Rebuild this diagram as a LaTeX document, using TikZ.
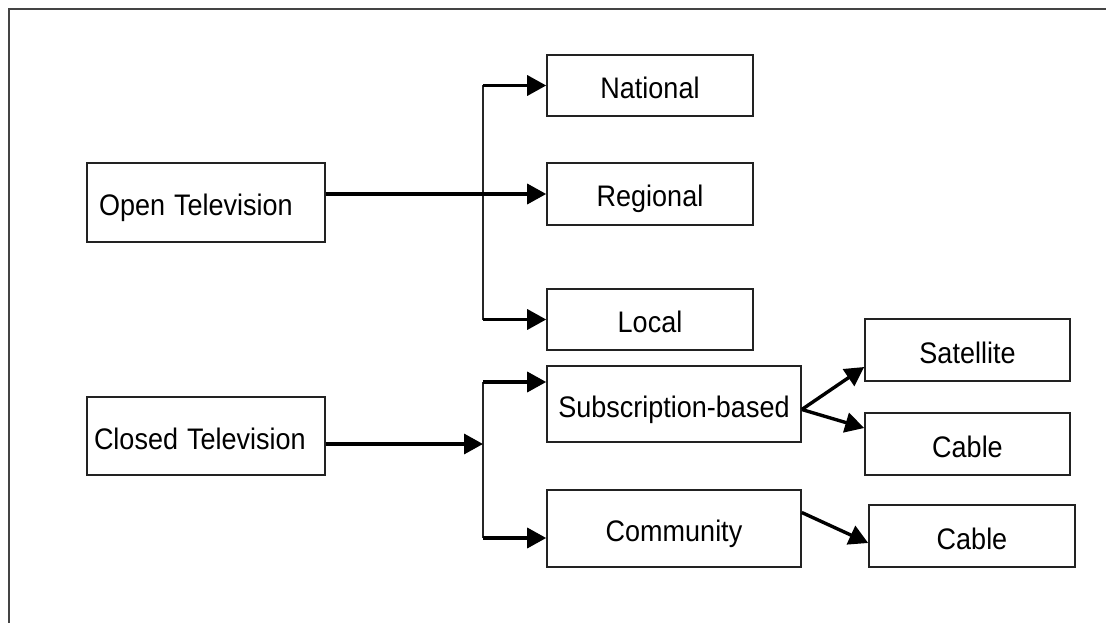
\documentclass[tikz,border=0pt]{standalone}
\usepackage{fontspec}
\setmainfont{Liberation Sans}
\usetikzlibrary{arrows.meta,positioning}
\definecolor{frame}{HTML}{444444}
\definecolor{boxline}{HTML}{222222}
\newcommand{\tall}[1]{\scalebox{1}[1.1]{#1}}
\tikzset{
  box/.style={draw=boxline, line width=1.6pt, inner sep=0pt, text height=26pt, text depth=0pt,
    font=\fontsize{27}{32}\selectfont, text=black},
  leftbox/.style={box, align=left, inner xsep=12pt, text width=214pt},
  conn/.style={line width=3.4pt, black, -{Triangle[length=19pt,width=20pt]}},
  trunk/.style={line width=2pt, black!85},
}
\begin{document}
\begin{tikzpicture}[x=1pt,y=-1pt]
\useasboundingbox (0,0) rectangle (1106,623);
\fill[white] (0,0) rectangle (1106,623);
\draw[frame, line width=2pt] (1110,9) -- (9,9) -- (9,630);

% boxes
\node[leftbox, minimum height=79pt] (open) at (206,202.5) {\tall{Open Television}};
\node[box, minimum height=78pt, align=left, inner xsep=7pt, text width=224pt] (closed) at (206,436) {\tall{Closed Television}};
\node[box, minimum width=206pt, minimum height=61pt] (national) at (650,85.5) {\tall{National}};
\node[box, minimum width=206pt, minimum height=62pt] (regional) at (650,194) {\tall{Regional}};
\node[box, minimum width=206pt, minimum height=61pt] (local) at (650,319.5) {\tall{Local}};
\node[box, minimum width=254pt, minimum height=76pt] (sub) at (674,404) {\tall{Subscription-based}};
\node[box, minimum width=254pt, minimum height=77pt] (comm) at (674,528.5) {\tall{Community}};
\node[box, minimum width=205pt, minimum height=62pt] (sat) at (967.5,350) {\tall{Satellite}};
\node[box, minimum width=205pt, minimum height=62pt] (cable1) at (967.5,444) {\tall{Cable}};
\node[box, minimum width=206pt, minimum height=62pt] (cable2) at (972,536) {\tall{Cable}};

% junction coordinates
\coordinate (otop) at (483,85.5);
\coordinate (obot) at (483,319.5);
\coordinate (cjoin) at (483,444);
\coordinate (ctop) at (483,382);
\coordinate (cbot) at (483,538);

% open television
\draw[trunk] (otop) -- (obot);
\draw[conn] (open.east |- regional.west) -- (regional.west);
\draw[conn] (otop) -- (national.west);
\draw[conn] (obot) -- (local.west);

% closed television
\draw[trunk] (ctop) -- (cbot);
\draw[conn] (closed.east |- cjoin) -- (cjoin);
\draw[conn] (ctop) -- (sub.west |- ctop);
\draw[conn] (cbot) -- (comm.west |- cbot);

% subscription-based
\draw[conn] ([yshift=-5.5pt]sub.east) -- ([yshift=-17pt]sat.west);
\draw[conn] ([yshift=-5.5pt]sub.east) -- ([yshift=16pt]cable1.west);
% community
\draw[conn] ([yshift=16pt]comm.east) -- ([yshift=-7pt]cable2.west);
\end{tikzpicture}
\end{document}
